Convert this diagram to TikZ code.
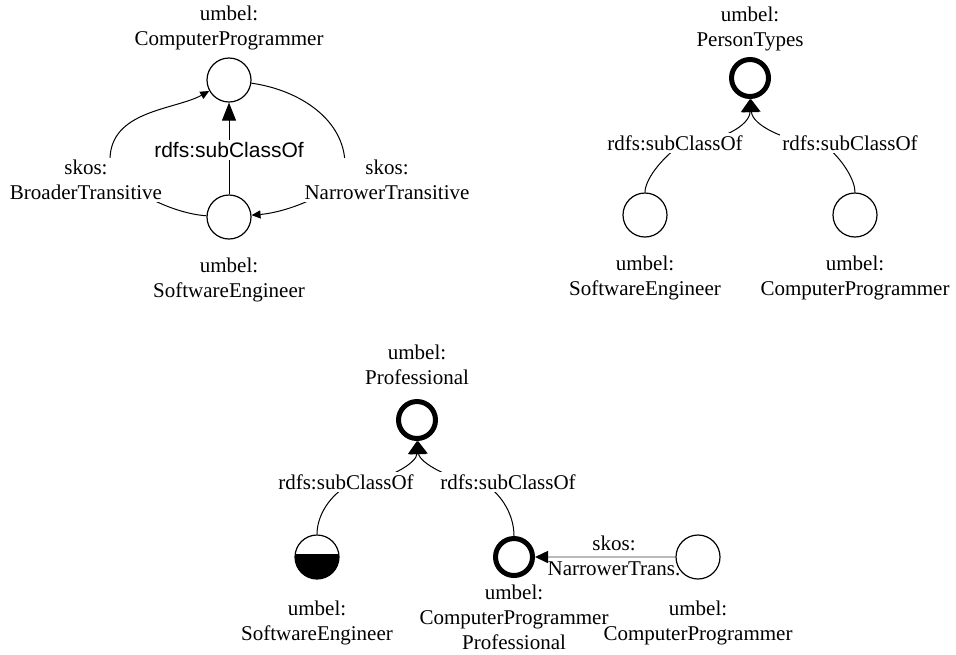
\documentclass[tikz,border=0pt]{standalone}
\usepackage{fontspec}
\setmainfont{Liberation Serif}
\newfontfamily\relfont{Liberation Sans}
\usetikzlibrary{arrows.meta, positioning}

\begin{document}
\begin{tikzpicture}[x=0.5pt, y=-0.5pt,
        every node/.style={font=\fontsize{10.5}{12.5}\selectfont},
        cls/.style={circle, draw=black, line width=0.6pt, minimum size=22pt, inner sep=0pt},
        topcls/.style={circle, draw=black, line width=2.5pt, minimum size=18.5pt, inner sep=0pt},
        halfcls/.style={cls, path picture={\fill ([yshift=1.5pt]path picture bounding box.west) rectangle (path picture bounding box.south east);}},
        clsname/.style={align=center, inner sep=0pt},
        rellabel/.style={align=center, inner sep=1pt, fill=white},
        rel/.style={line width=0.5pt},
        smalltip/.style={-{Triangle[length=4.5pt, width=4pt]}},
        bigtip/.style={-{Triangle[length=9pt, width=7pt]}},
        uptip/.style={-{Triangle[length=6.5pt, width=9pt]}}]
        \useasboundingbox (0,0) rectangle (956,654);

        % transitive skos links
        \node[cls] (cpA) at (229,80) {};
        \node[cls] (seA) at (229,217) {};
        \node[clsname, above=3.5pt of cpA] (cpAname) {umbel:\\ComputerProgrammer};
        \node[clsname, below=9pt of seA] (seAname) {umbel:\\SoftwareEngineer};

        \draw[rel, smalltip] (seA) .. controls (175,214) and (120,190) .. (110,160)
                                   .. controls (110,110) and (175,110) .. (cpA);
        \draw[rel, smalltip] (cpA) .. controls (300,90) and (345,120) .. (345,165)
                                   .. controls (345,190) and (290,212) .. (seA);
        \draw[rel, bigtip] (seA) -- (cpA);
        \node[rellabel] (btA) at (86,180) {skos:\\BroaderTransitive};
        \node[rellabel] (ntA) at (387,180) {skos:\\NarrowerTransitive};
        \node[rellabel, font=\fontsize{10.5}{12.5}\relfont] (scA) at (229,150) {rdfs:subClassOf};

        % person types
        \node[topcls] (ptB) at (750,78) {};
        \node[cls] (seB) at (645,215) {};
        \node[cls] (cpB) at (855,215) {};
        \node[clsname, above=3pt of ptB] (ptBname) {umbel:\\PersonTypes};
        \node[clsname, below=9pt of seB] (seBname) {umbel:\\SoftwareEngineer};
        \node[clsname, below=9pt of cpB] (cpBname) {umbel:\\ComputerProgrammer};

        \draw[rel, uptip] (seB) .. controls (645,180) and (660,160) .. (680,145)
                                .. controls (722,142) and (750,125) .. (ptB);
        \draw[rel, uptip] (cpB) .. controls (855,180) and (843,160) .. (825,145)
                                .. controls (785,142) and (752,125) .. (ptB);
        \node[rellabel] (scB1) at (675,143) {rdfs:subClassOf};
        \node[rellabel] (scB2) at (850,143) {rdfs:subClassOf};

        % professional
        \node[topcls] (prC) at (417,420) {};
        \node[halfcls] (seC) at (317,557) {};
        \node[topcls] (cppC) at (514,557) {};
        \node[cls] (cpC) at (698,557) {};
        \node[clsname, above=7pt of prC] (prCname) {umbel:\\Professional};
        \node[clsname, below=10.5pt of seC] (seCname) {umbel:\\SoftwareEngineer};
        \node[clsname, below=3.3pt of cppC] (cppCname) {umbel:\\ComputerProgrammer\\Professional};
        \node[clsname, below=10.5pt of cpC] (cpCname) {umbel:\\ComputerProgrammer};

        \draw[rel, uptip] (seC) .. controls (317,515) and (330,495) .. (350,484)
                                .. controls (390,481) and (417,462) .. (prC);
        \draw[rel, uptip] (cppC) .. controls (514,515) and (502,495) .. (485,484)
                                 .. controls (450,481) and (419,462) .. (prC);
        \node[rellabel] (scC1) at (346,482) {rdfs:subClassOf};
        \node[rellabel] (scC2) at (508,482) {rdfs:subClassOf};

        \draw[gray!55, line width=0.8pt, -{Triangle[length=6.5pt, width=6pt, black]}] (cpC) -- (cppC);
        \node[align=center, inner sep=0pt] (ntC) at (614,556) {skos:\\NarrowerTrans.};
    \end{tikzpicture}
\end{document}
